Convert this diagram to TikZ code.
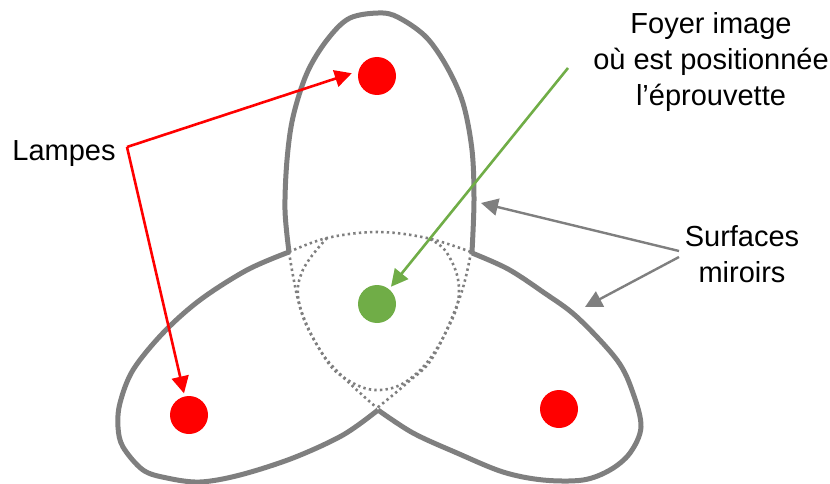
\documentclass[tikz,border=0pt]{standalone}
\usepackage{fontspec}
\setmainfont{Liberation Sans}
\usetikzlibrary{arrows.meta,calc}
\definecolor{miroir}{HTML}{7F7F7F}
\definecolor{lampe}{HTML}{FF0000}
\definecolor{foyer}{HTML}{70AD47}
\tikzset{
  surf/.style={draw=miroir,line width=5pt,line join=round},
  virt/.style={draw=miroir,line width=2.6pt,dash pattern=on 2.4pt off 3.2pt},
  lamp/.style={circle,fill=lampe,minimum size=38pt,inner sep=0pt},
  spot/.style={lamp,fill=foyer},
  lbl/.style={align=center,font=\fontsize{29}{36}\selectfont,text=black,inner sep=0pt},
  arr/.style={-{Triangle[length=17pt,width=17pt]},draw=lampe,line width=2.6pt},
  arrg/.style={arr,draw=foyer,fill=foyer},
  arrm/.style={arr,draw=miroir,line width=2.4pt},
}
\begin{document}
\begin{tikzpicture}[x=1pt,y=-1pt]
  \useasboundingbox (0,0) rectangle (830,484);
  % dotted parts
  \draw[virt] plot[smooth,tension=.6] coordinates {(289,252) (327,238) (377,232) (427,238) (471,252)};
  \draw[virt] plot[smooth,tension=.6] coordinates {(289,252) (300,307) (320,350) (343,377) (377,408)};
  \draw[virt] plot[smooth,tension=.6] coordinates {(471,252) (460,297) (433,357) (407,383) (377,408)};
  \draw[virt] plot[smooth,tension=.7] coordinates {(327,238) (302,272) (300,307) (320,350) (343,377) (380,390) (417,373) (447,330) (459,290) (447,253) (427,238)};
  % mirrors
  \draw[surf] plot[smooth,tension=.55] coordinates {(289,252) (285,210) (287,160) (293,117) (307,73) (327,40) (350,18) (383,13) (403,20) (427,38) (447,67) (463,103) (472,150) (474,200) (472,252)};
  \draw[surf] plot[smooth,tension=.55] coordinates {(289,252) (247,270) (200,300) (163,333) (133,370) (120,403) (118,427) (123,447) (143,470) (167,478) (200,482) (240,475) (293,458) (343,435) (378,410)};
  \draw[surf] plot[smooth,tension=.55] coordinates {(472,253) (508,269) (543,292) (577,317) (617,360) (633,393) (641,427) (630,453) (610,470) (583,480) (543,480) (503,472) (457,453) (413,433) (378,410)};
  % lamps and focus
  \node[lamp] (lamp1) at (377,76) {};
  \node[lamp] (lamp2) at (189,415) {};
  \node[lamp] (lamp3) at (559,409) {};
  \node[spot] (focus) at (377,304) {};
  % labels
  \node[lbl] (lampes) at (64,154) {Lampes};
  \node[lbl] (foyertxt) at (711,62) {Foyer image\\où est positionnée\\l’éprouvette};
  \node[lbl] (surfaces) at (742,254) {Surfaces\\miroirs};
  \coordinate (src) at (127,147);
  \coordinate (fsrc) at (568,68);
  \coordinate (msrca) at (679,251);
  \coordinate (msrcb) at (679,257);
  \coordinate (mtop) at (481,203);
  \coordinate (mright) at (585,307);
  % arrows
  \draw[arr,shorten >=7pt] (src) -- (lamp1.165);
  \draw[arr,shorten >=3pt] (src) -- (lamp2);
  \draw[arrg,shorten >=3pt] (fsrc) -- (focus);
  \draw[arrm] (msrca) -- (mtop);
  \draw[arrm] (msrcb) -- (mright);
\end{tikzpicture}
\end{document}
